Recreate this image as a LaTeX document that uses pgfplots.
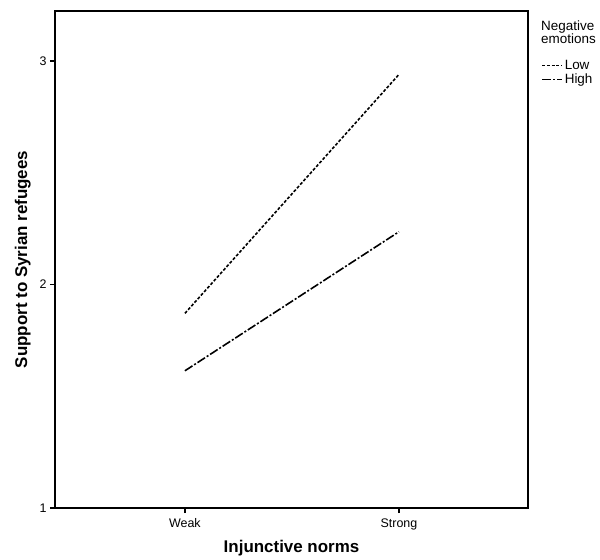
\documentclass[border=0pt]{standalone}
\usepackage{fontspec}
\setmainfont{Liberation Sans}
\usepackage{pgfplots}
\pgfplotsset{compat=1.18}
\begin{document}
\begin{tikzpicture}
\begin{axis}[
  at={(0,0)}, anchor=south west,
  scale only axis, width=473bp, height=497bp,
  xmin=-0.607, xmax=1.603, ymin=1, ymax=3.224,
  xtick={0,1}, xticklabels={Weak,Strong},
  ytick={1,2,3},
  tick align=outside, tick pos=left, major tick length=5bp,
  axis line style={line width=1.2pt},
  every tick/.style={line width=1.2pt, black},
  /pgf/number format/assume math mode=true,
  tick label style={font=\fontsize{12.5}{14}\selectfont},
  xticklabel style={yshift=-2bp},
  xlabel={\textbf{Injunctive norms}},
  ylabel={\textbf{Support to Syrian refugees}},
  label style={font=\fontsize{17}{18}\selectfont},
  xlabel style={yshift=-4bp},
  ylabel style={yshift=2bp},
  legend style={at={([xshift=13bp,yshift=-47bp]rel axis cs:1,1)}, anchor=north west,
    draw=none, fill=none, font=\fontsize{13.5}{14}\selectfont, inner sep=0pt,
    row sep=-1bp, cells={anchor=west}},
  legend image code/.code={\draw[#1] (0bp,0bp) -- (20bp,0bp);},
  clip=false,
]
\addplot[black, line width=1.6pt, dash pattern=on 3bp off 1.8bp] coordinates {(0,1.871) (1,2.94)};
\addlegendentry{Low}
\addplot[black, line width=1.6pt, dash pattern=on 9bp off 2bp on 2bp off 2bp] coordinates {(0,1.614) (1,2.236)};
\addlegendentry{High}
\node[anchor=north west, align=left, inner sep=0pt, font=\fontsize{13.5}{13}\selectfont] at ([xshift=13bp,yshift=-10bp]rel axis cs:1,1) {Negative\\emotions};
\end{axis}
\path[use as bounding box] (-55bp,-51bp) rectangle (545bp,508bp);
\end{tikzpicture}
\end{document}
